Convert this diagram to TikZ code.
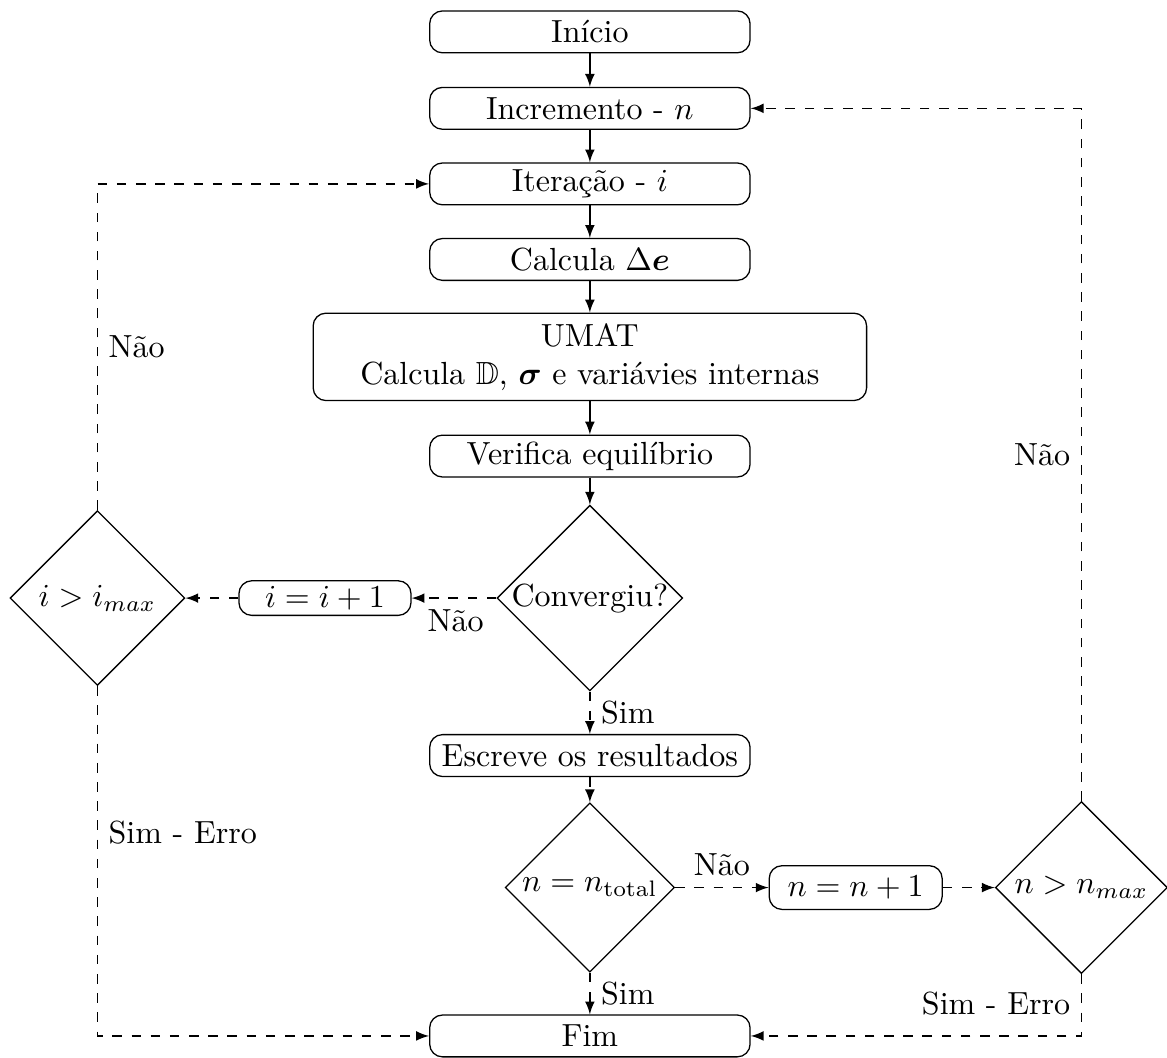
\documentclass[tikz,border=0pt]{standalone}
\usepackage{amsmath,amssymb}
\usetikzlibrary{shapes.geometric}

\begin{document}
\begin{tikzpicture}[
  bloco/.style={draw, rounded corners, inner sep=1pt, minimum width=3.52cm, minimum height=0.46cm, align=center},
  decisao/.style={draw, diamond, aspect=1, inner sep=0pt},
  seta/.style={->, >=latex},
  tracejada/.style={->, >=latex, dashed}]
\useasboundingbox (0,0) rectangle (12.82,-11.62);
% coluna central
\node[bloco] (inicio) at (6.48,-0.35) {Início};
\node[bloco] (incremento) at (6.48,-1.19) {Incremento - $n$};
\node[bloco] (iteracao) at (6.48,-2.02) {Iteração - $i$};
\node[bloco] (calcula) at (6.48,-2.85) {Calcula $\Delta\boldsymbol{e}$};
\node[bloco, minimum width=6.08cm, minimum height=0.96cm] (umat) at (6.48,-3.92) {UMAT\\Calcula $\mathbb{D}$, $\boldsymbol{\sigma}$ e variávies internas};
\node[bloco] (verifica) at (6.48,-5.01) {Verifica equilíbrio};
\node[decisao, minimum size=1.95cm] (convergiu) at (6.48,-6.57) {Convergiu?};
\node[bloco] (escreve) at (6.48,-8.30) {Escreve os resultados};
\node[decisao, minimum size=1.86cm] (ntotal) at (6.48,-9.75) {$n=n_{\text{total}}$};
\node[bloco] (fim) at (6.48,-11.38) {Fim};
% laterais
\node[bloco, minimum width=1.89cm, minimum height=0.38cm] (iinc) at (3.57,-6.57) {$i=i+1$};
\node[decisao, minimum size=1.92cm] (imax) at (1.07,-6.57) {$i>i_{max}$};
\node[bloco, minimum width=1.90cm, minimum height=0.48cm] (ninc) at (9.40,-9.75) {$n=n+1$};
\node[decisao, minimum size=1.89cm] (nmax) at (11.88,-9.75) {$n>n_{max}$};

\draw[seta] (inicio) -- (incremento);
\draw[seta] (incremento) -- (iteracao);
\draw[seta] (iteracao) -- (calcula);
\draw[seta] (calcula) -- (umat);
\draw[seta] (umat) -- (verifica);
\draw[seta] (verifica) -- (convergiu);
\draw[tracejada] (convergiu) -- node[below, pos=0.48] {Não} (iinc);
\draw[tracejada] (iinc) -- (imax);
\draw[tracejada] (imax) |- node[right, pos=0.25] {Não} (iteracao);
\draw[tracejada] (convergiu) -- node[right] {Sim} (escreve);
\draw[tracejada] (escreve) -- (ntotal);
\draw[tracejada] (ntotal) -- node[above] {Não} (ninc);
\draw[tracejada] (ninc) -- (nmax);
\draw[tracejada] (nmax) |- node[left, pos=0.25] {Não} (incremento);
\draw[tracejada] (ntotal) -- node[right] {Sim} (fim);
\draw[tracejada] (imax) |- node[right, pos=0.21] {Sim - Erro} (fim);
\draw[tracejada] (nmax) |- node[left, pos=0.24] {Sim - Erro} (fim);
\end{tikzpicture}
\end{document}
